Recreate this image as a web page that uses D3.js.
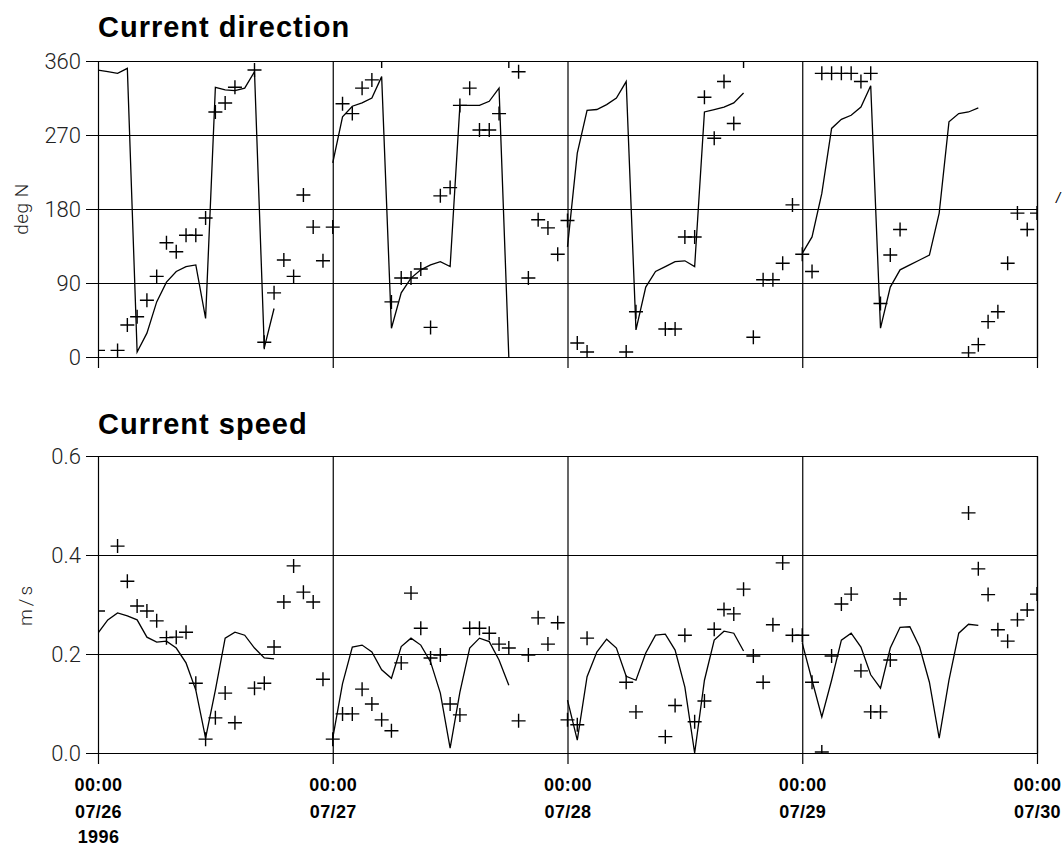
<!DOCTYPE html>
<html>
<head lang="en">
  <title>Current direction and speed</title>
  <script src="https://d3js.org/d3.v7.min.js" charset="utf-8"></script>
  <style>
    body { margin: 0; background: #fff; }
    .ylab text { font-family: Roboto, "Liberation Sans", sans-serif; font-weight: 300; font-size: 22px; fill: #222; }
    .xlab text { font-family: "Liberation Sans", Arial, sans-serif; font-weight: bold; font-size: 18px; letter-spacing: 0.4px; fill: #000; }
    .grid line, .grid path { stroke: #000; stroke-width: 1.2; }
  </style>
</head>
<body>
  <script>

    // hourly values, hour 0 = 1996-07-26 00:00 ; null = no value
    // model curve, current direction (deg N)
    var dirModel = [
      349, 347, 345, 351, 6, 29, 67, 91, 104, 110, 112, 47, 328, 325, 324, 327, 347, 11, 59,
      null, null, null, null, null,
      236, 292, 305, 309, 315, 341, 35, 78, 96, 106, 112, 116, 110, 306, 306, 306, 311, 327, 0,
      null, null, null, null, null,
      134, 248, 300, 301, 307, 315, 335, 33, 85, 104, 110, 116, 117, 110, 298, 301, 304, 309, 321,
      null, null, null, null, null,
      126, 146, 199, 278, 289, 294, 304, 330, 35, 85, 106, 112, 118, 124, 175, 286, 296, 298, 303,
      null, null, null, null, null, null
    ];

    // observed current direction (deg N)
    var dirObs = [
      8, null, 8, 39, 49, 69, 98, 139, 128, 148, 148, 169, 298, 309, 328, null, 349, 18, 78, 118, 98, 197, 158, 117,
      158, 308, 296, 327, 337, 360, 67, 96, 96, 107, 36, 196, 206, 306, 327, 276, 276, 296, 360, 347, 96, 167, 157, 125,
      166, 17, 6, null, null, null, 6, 55, null, null, 34, 34, 146, 146, 316, 266, 335, 284, 360, 24, 94, 94, 114, 185,
      125, 104, 345, 345, 345, 345, 335, 345, 65, 124, 155, null, null, null, null, null, null, 5, 15, 43, 55, 114, 175, 155,
      175
    ];

    // model curve, current speed (m/s)
    var spdModel = [
      0.242, 0.269, 0.283, 0.277, 0.269, 0.234, 0.224, 0.226, 0.212, 0.182, 0.127, 0.03, 0.127, 0.232, 0.244, 0.238, 0.212, 0.192, 0.19,
      null, null, null, null, null,
      0.03, 0.14, 0.214, 0.218, 0.204, 0.168, 0.151, 0.215, 0.232, 0.218, 0.184, 0.121, 0.01, 0.123, 0.212, 0.232, 0.225, 0.188, 0.137,
      null, null, null, null, null,
      0.107, 0.026, 0.154, 0.204, 0.23, 0.212, 0.155, 0.147, 0.202, 0.238, 0.24, 0.208, 0.133, 0.0, 0.147, 0.228, 0.246, 0.242, 0.206,
      null, null, null, null, null,
      0.222, 0.147, 0.073, 0.147, 0.228, 0.242, 0.214, 0.158, 0.131, 0.212, 0.254, 0.255, 0.214, 0.143, 0.03, 0.147, 0.242, 0.26, 0.258,
      null, null, null, null, null, null
    ];

    // observed current speed (m/s)
    var spdObs = [
      0.287, null, 0.418, 0.347, 0.297, 0.287, 0.267, 0.233, 0.234, 0.244, 0.141, 0.028, 0.071, 0.121, 0.061, null, 0.131, 0.141, 0.214, 0.305, 0.378, 0.325, 0.305, 0.149,
      0.028, 0.079, 0.079, 0.129, 0.099, 0.067, 0.045, 0.182, 0.323, 0.252, 0.192, 0.198, 0.099, 0.077, 0.252, 0.252, 0.242, 0.22, 0.212, 0.065, 0.198, 0.273, 0.22, 0.263,
      0.067, 0.057, 0.232, null, null, null, 0.143, 0.083, null, null, 0.033, 0.096, 0.238, 0.063, 0.105, 0.25, 0.29, 0.281, 0.331, 0.196, 0.143, 0.259, 0.384, 0.238,
      0.238, 0.143, 0.002, 0.196, 0.301, 0.321, 0.166, 0.083, 0.083, 0.188, 0.311, null, null, null, null, null, null, 0.485, 0.372, 0.32, 0.249, 0.226, 0.269, 0.289,
      0.321
    ];

    var dirTicks = [0, 90, 180, 270, 360];
    var spdTicks = [0.0, 0.2, 0.4, 0.6];
    var startDate = new Date(1996, 6, 26, 0, 0);
    var endDate = new Date(1996, 6, 30, 0, 0);

    var width = 1062;
    var height = 846;
    var left = 98, right = 1037;

    var svg = d3.select("body")
      .append("svg")
      .attr("width", width)
      .attr("height", height);

    var x = d3.scaleTime()
      .domain([startDate, endDate])
      .range([left, right]);

    function hourDate(i) { return d3.timeHour.offset(startDate, i); }

    var panels = [
      { id: "dir", title: "Current direction", unit: "deg N", top: 61, bottom: 357,
        domain: [0, 360], ticks: dirTicks, fmt: d3.format("d"), model: dirModel, obs: dirObs,
        titleY: 37, unitX: 23, labels: false },
      { id: "spd", title: "Current speed", unit: "m/s", top: 456, bottom: 753,
        domain: [0, 0.6], ticks: spdTicks, fmt: d3.format(".1f"), model: spdModel, obs: spdObs,
        titleY: 434, unitX: 27, labels: true }
    ];

    var cross = "M-7,0H7M0,-7V7";

    panels.forEach(function(p) {
      var y = d3.scaleLinear().domain(p.domain).range([p.bottom, p.top]);

      svg.append("clipPath")
          .attr("id", "clip-" + p.id)
        .append("rect")
          .attr("x", left)
          .attr("y", p.top)
          .attr("width", right - left)
          .attr("height", p.bottom - p.top);

      // horizontal grid + labels, axis placed on the right border
      svg.append("g")
          .attr("class", "grid ylab")
          .attr("transform", "translate(" + right + ",0)")
          .call(d3.axisLeft(y)
            .tickValues(p.ticks)
            .tickFormat(p.fmt)
            .tickSizeInner(right - 86)
            .tickSizeOuter(0)
            .tickPadding(5));

      // vertical day lines with ticks below
      var xa = svg.append("g")
          .attr("class", "grid xlab")
          .attr("transform", "translate(0," + p.top + ")")
          .call(d3.axisBottom(x)
            .ticks(d3.timeDay.every(1))
            .tickSizeInner(p.bottom - p.top + 11)
            .tickSizeOuter(0)
            .tickFormat(function() { return ""; }));

      if (p.labels) {
        xa.selectAll(".tick text").each(function(d, i) {
          var t = d3.select(this).attr("y", p.bottom - p.top + 38).attr("dy", 0);
          t.append("tspan").attr("x", 0).attr("dy", 0).text(d3.timeFormat("%H:%M")(d));
          t.append("tspan").attr("x", 0).attr("dy", 27).text(d3.timeFormat("%m/%d")(d));
          if (i === 0) t.append("tspan").attr("x", 0).attr("dy", 25).text(d3.timeFormat("%Y")(d));
        });
      }

      svg.append("text")
        .attr("x", left)
        .attr("y", p.titleY)
        .attr("font-family", "'Liberation Sans', Arial, sans-serif")
        .attr("font-weight", "bold")
        .attr("font-size", "29px")
        .attr("letter-spacing", "1px")
        .text(p.title);

      svg.append("text")
        .attr("transform", "translate(" + p.unitX + "," + ((p.top + p.bottom) / 2) + ") rotate(-90)")
        .attr("text-anchor", "middle")
        .attr("dominant-baseline", "middle")
        .attr("font-family", "Roboto, 'Liberation Sans', sans-serif")
        .attr("font-weight", 300)
        .attr("font-size", "19px")
        .attr("letter-spacing", p.id === "spd" ? "3px" : "0.5px")
        .attr("fill", "#222")
        .text(p.unit);

      var line = d3.line()
        .defined(function(d) { return d != null; })
        .x(function(d, i) { return x(hourDate(i)); })
        .y(function(d) { return y(d); });

      svg.append("path")
        .datum(p.model)
        .attr("clip-path", "url(#clip-" + p.id + ")")
        .attr("fill", "none")
        .attr("stroke", "#000")
        .attr("stroke-width", 1.3)
        .attr("d", line);

      var pts = p.obs.map(function(v, i) { return { t: hourDate(i), v: v }; })
        .filter(function(d) { return d.v != null; });

      svg.append("g")
          .attr("clip-path", "url(#clip-" + p.id + ")")
        .selectAll("path")
        .data(pts)
        .enter().append("path")
          .attr("transform", function(d) { return "translate(" + x(d.t) + "," + y(d.v) + ")"; })
          .attr("d", cross)
          .attr("fill", "none")
          .attr("stroke", "#000")
          .attr("stroke-width", 1.4);
    });

    // stray mark cut off at the right edge of the scan
    svg.append("text")
      .attr("x", 1056)
      .attr("y", 203)
      .attr("font-family", "'Liberation Sans', sans-serif")
      .attr("font-style", "italic")
      .attr("font-size", "15px")
      .text("/");

  </script>
</body>
</html>
